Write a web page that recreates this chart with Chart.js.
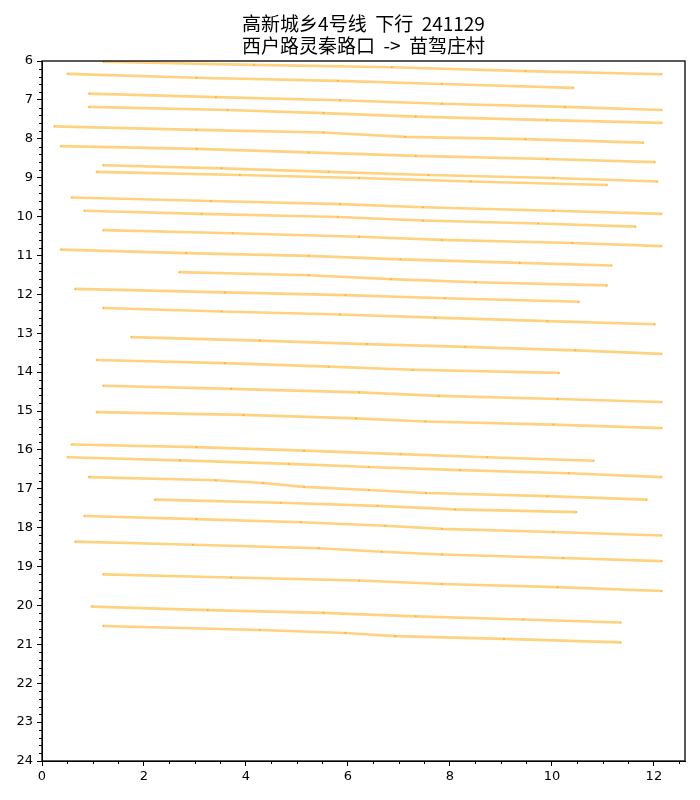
<!DOCTYPE html>
<html>
<head>
<meta charset="utf-8">
<script src="https://cdn.jsdelivr.net/npm/chart.js@4.4.1/dist/chart.umd.min.js"></script>
<style>
  html, body { margin: 0; padding: 0; background: #fff; }
</style>
</head>
<body>
<canvas id="chart" width="700" height="800"></canvas>
<script>
// 高新城乡4号线 下行 — 每个班次的站点 (公里, 小时)
const stopKm = [
  [1.20, 4.16, 6.86, 9.48, 12.15],
  [0.50, 3.03, 5.80, 7.84, 10.42],
  [0.92, 3.41, 5.84, 7.84, 10.25, 12.15],
  [0.92, 3.64, 5.52, 7.33, 9.91, 12.15],
  [0.24, 3.03, 5.52, 7.12, 9.48, 11.79],
  [0.37, 3.03, 5.23, 7.33, 9.91, 12.02],
  [1.20, 3.52, 5.62, 7.58, 10.03, 12.07],
  [1.07, 3.88, 6.22, 8.41, 11.08],
  [0.58, 3.31, 5.84, 7.47, 10.03, 12.15],
  [0.83, 3.13, 5.80, 7.47, 9.73, 11.64],
  [1.20, 3.74, 6.22, 7.84, 10.40, 12.15],
  [0.37, 2.82, 5.23, 7.03, 9.37, 11.17],
  [2.69, 5.23, 6.84, 8.50, 11.08],
  [0.65, 3.59, 5.95, 7.90, 10.53],
  [1.20, 3.52, 5.84, 7.71, 9.91, 12.02],
  [1.75, 4.27, 6.37, 8.30, 10.46, 12.15],
  [1.07, 3.59, 5.62, 7.27, 10.14],
  [1.20, 3.71, 6.22, 7.78, 10.11, 12.15],
  [1.07, 3.95, 6.16, 7.52, 10.03, 12.15],
  [0.58, 3.03, 5.14, 7.03, 8.73, 10.82],
  [0.50, 2.71, 4.84, 6.41, 8.20, 10.33, 12.15],
  [0.92, 3.41, 4.33, 5.14, 6.41, 7.53, 9.91, 11.86],
  [2.21, 4.68, 6.58, 8.10, 10.48],
  [0.83, 3.03, 5.08, 6.73, 7.84, 10.03, 12.15],
  [0.65, 2.96, 5.43, 6.66, 7.84, 10.22, 12.15],
  [1.20, 3.71, 6.22, 7.84, 10.11, 12.15],
  [0.97, 3.25, 5.52, 7.33, 9.44, 11.35],
  [1.20, 4.27, 5.95, 6.92, 9.06, 11.35]
];

const stopHour = [
  [6.02, 6.10, 6.16, 6.26, 6.34],
  [6.33, 6.43, 6.51, 6.59, 6.69],
  [6.84, 6.93, 7.01, 7.10, 7.18, 7.26],
  [7.18, 7.26, 7.34, 7.43, 7.52, 7.59],
  [7.68, 7.77, 7.84, 7.95, 8.01, 8.10],
  [8.19, 8.26, 8.35, 8.44, 8.52, 8.60],
  [8.68, 8.76, 8.85, 8.93, 9.01, 9.10],
  [8.85, 8.93, 9.01, 9.10, 9.19],
  [9.51, 9.60, 9.68, 9.76, 9.85, 9.93],
  [9.85, 9.93, 10.01, 10.10, 10.18, 10.26],
  [10.35, 10.43, 10.52, 10.60, 10.68, 10.76],
  [10.85, 10.94, 11.01, 11.10, 11.19, 11.26],
  [11.43, 11.51, 11.61, 11.69, 11.77],
  [11.86, 11.95, 12.02, 12.10, 12.19],
  [12.35, 12.44, 12.52, 12.60, 12.69, 12.77],
  [13.10, 13.19, 13.28, 13.35, 13.44, 13.53],
  [13.69, 13.77, 13.86, 13.94, 14.02],
  [14.35, 14.43, 14.52, 14.61, 14.69, 14.77],
  [15.03, 15.10, 15.19, 15.27, 15.35, 15.44],
  [15.86, 15.93, 16.02, 16.11, 16.19, 16.28],
  [16.19, 16.27, 16.36, 16.44, 16.52, 16.60, 16.70],
  [16.70, 16.78, 16.85, 16.95, 17.03, 17.11, 17.19, 17.28],
  [17.28, 17.36, 17.44, 17.53, 17.60],
  [17.70, 17.78, 17.86, 17.95, 18.03, 18.11, 18.20],
  [18.36, 18.44, 18.53, 18.62, 18.69, 18.78, 18.86],
  [19.20, 19.28, 19.36, 19.45, 19.53, 19.63],
  [20.03, 20.12, 20.19, 20.28, 20.36, 20.44],
  [20.53, 20.63, 20.71, 20.79, 20.86, 20.95]
];

const tickKm = [0, 2, 4, 6, 8, 10, 12];
const tickHour = [6, 7, 8, 9, 10, 11, 12, 13, 14, 15, 16, 17, 18, 19, 20, 21, 22, 23, 24];
const titulo = ['高新城乡4号线  下行  241129', '西户路灵秦路口  ->  苗驾庄村'];

const FONT = "'DejaVu Sans', 'Noto Sans CJK SC', sans-serif";
const FONT_TITULO = "'Noto Sans CJK SC', sans-serif";
const LINE = 'rgba(255, 165, 0, 0.5)';
const PONTO = 'rgba(255, 150, 0, 0.6)';

// moldura completa + ticks menores (0.5 km / 0.2 h) + título centrado nos eixos
const molduraPlugin = {
  id: 'moldura',
  afterDraw(chart) {
    const { ctx, chartArea: a, scales: { x, y } } = chart;
    ctx.save();
    ctx.strokeStyle = '#000';
    ctx.lineWidth = 1;
    ctx.beginPath();
    for (let i = 1; i * 0.5 <= x.max; i++) {
      if (i % 4 === 0) continue;
      const px = Math.round(x.getPixelForValue(i * 0.5)) + 0.5;
      ctx.moveTo(px, a.bottom);
      ctx.lineTo(px, a.bottom + 3);
    }
    for (let i = 1; i < 90; i++) {
      if (i % 5 === 0) continue;
      const py = Math.round(y.getPixelForValue(6 + i * 0.2)) + 0.5;
      ctx.moveTo(a.left, py);
      ctx.lineTo(a.left - 3, py);
    }
    ctx.stroke();
    ctx.lineWidth = 1.3;
    ctx.strokeRect(a.left, a.top, a.right - a.left, a.bottom - a.top);

    ctx.fillStyle = '#000';
    ctx.font = '19px ' + FONT_TITULO;
    ctx.textAlign = 'center';
    ctx.textBaseline = 'middle';
    const cx = (a.left + a.right) / 2;
    ctx.fillText(titulo[0], cx, 24);
    ctx.fillText(titulo[1], cx, 46);
    ctx.restore();
  }
};

const datasets = stopKm.map((kms, i) => ({
  data: kms.map((km, j) => ({ x: km, y: stopHour[i][j] })),
  showLine: true,
  borderColor: LINE,
  borderWidth: 2.6,
  pointRadius: 1,
  pointBackgroundColor: PONTO,
  pointBorderWidth: 0,
  tension: 0
}));

new Chart(document.getElementById('chart'), {
  type: 'scatter',
  data: { datasets },
  options: {
    responsive: false,
    animation: false,
    layout: { padding: { left: 0, right: 15, top: 61, bottom: 0 } },
    plugins: {
      legend: { display: false },
      tooltip: { enabled: false },
      title: { display: false }
    },
    scales: {
      x: {
        type: 'linear',
        min: 0,
        max: 12.61,
        afterBuildTicks: (s) => { s.ticks = tickKm.map(v => ({ value: v })); },
        afterFit: (s) => { s.height = 39; },
        ticks: { color: '#000', font: { family: FONT, size: 13 }, padding: 3, maxRotation: 0 },
        grid: { drawOnChartArea: false, drawTicks: true, tickLength: 5, color: '#000' },
        border: { display: true, color: '#000', width: 1 }
      },
      y: {
        type: 'linear',
        reverse: true,
        min: 6,
        max: 24,
        afterBuildTicks: (s) => { s.ticks = tickHour.map(v => ({ value: v })); },
        afterFit: (s) => { s.width = 42; },
        ticks: { color: '#000', font: { family: FONT, size: 13 }, padding: 4 },
        grid: { drawOnChartArea: false, drawTicks: true, tickLength: 5, color: '#000' },
        border: { display: true, color: '#000', width: 1 }
      }
    }
  },
  plugins: [molduraPlugin]
});
</script>
</body>
</html>
